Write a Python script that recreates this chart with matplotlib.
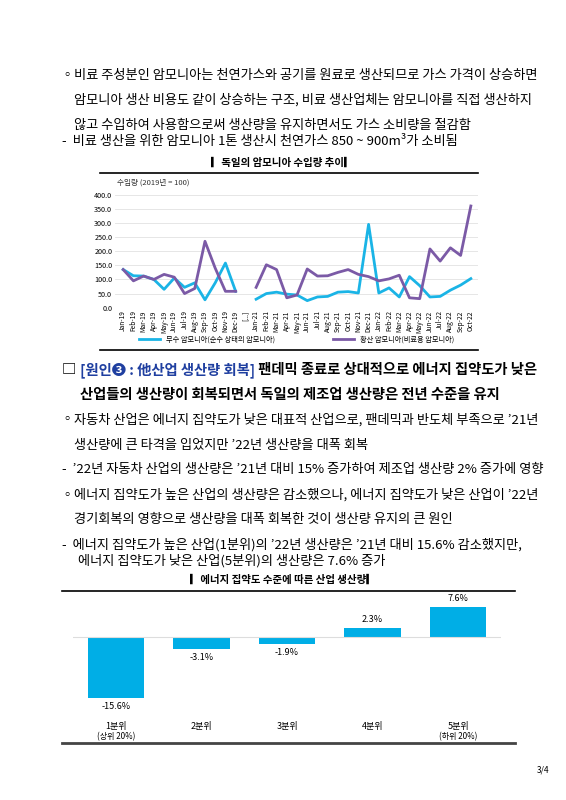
import matplotlib
matplotlib.use("Agg")
import matplotlib.pyplot as plt
from matplotlib.lines import Line2D
import numpy as np

plt.rcParams["font.family"] = ["Noto Sans CJK KR", "DejaVu Sans"]

W, H = 566, 800
CYAN = "#1ab4e6"
PURPLE = "#7b5aa6"
BAR = "#00aee6"
BLUE = "#1f3fa0"

months = ["Jan-19", "Feb-19", "Mar-19", "Apr-19", "May-19", "Jun-19", "Jul-19", "Aug-19",
          "Sep-19", "Oct-19", "Nov-19", "Dec-19", "[...]",
          "Jan-21", "Feb-21", "Mar-21", "Apr-21", "May-21", "Jun-21", "Jul-21", "Aug-21",
          "Sep-21", "Oct-21", "Nov-21", "Dec-21", "Jan-22", "Feb-22", "Mar-22", "Apr-22",
          "May-22", "Jun-22", "Jul-22", "Aug-22", "Sep-22", "Oct-22"]
pure_2019 = [135, 113, 112, 100, 65, 105, 72, 88, 28, 88, 158, 58]
pure_2122 = [30, 50, 55, 48, 45, 25, 38, 40, 55, 57, 52, 295,
             52, 70, 38, 110, 78, 38, 40, 62, 80, 103]
sulf_2019 = [135, 95, 112, 100, 118, 108, 50, 68, 235, 140, 58, 58]
sulf_2122 = [72, 152, 135, 35, 45, 137, 112, 113, 125, 135, 118, 110,
             95, 102, 115, 35, 32, 208, 165, 212, 185, 360]

quintiles = ["1분위\n(상위 20%)", "2분위", "3분위", "4분위", "5분위\n(하위 20%)"]
change = [-15.6, -3.1, -1.9, 2.3, 7.6]


def box(x, y, w, h):
    return [x / W, 1 - (y + h) / H, w / W, h / H]


def hline(x0, x1, y, lw=1.0, color="black"):
    fig.add_artist(Line2D([x0 / W, x1 / W], [1 - y / H, 1 - y / H], color=color, lw=lw))


def txt(x, y, s, **kw):
    kw.setdefault("fontsize", 9.5)
    return fig.text(x / W, 1 - y / H, s, va="center", **kw)


fig = plt.figure(figsize=(W / 100, H / 100), dpi=100)
fig.patch.set_facecolor("white")

# body text
txt(60, 75, "◦")
txt(74, 75, "비료 주성분인 암모니아는 천연가스와 공기를 원료로 생산되므로 가스 가격이 상승하면")
txt(74, 100, "암모니아 생산 비용도 같이 상승하는 구조, 비료 생산업체는 암모니아를 직접 생산하지")
txt(74, 125, "않고 수입하여 사용함으로써 생산량을 유지하면서도 가스 소비량을 절감함")
txt(62, 141, "-  비료 생산을 위한 암모니아 1톤 생산시 천연가스 850 ~ 900m³가 소비됨")

# line chart
txt(283, 163, "▎독일의 암모니아 수입량 추이▎", ha="center", fontsize=7.5, fontweight="bold")
hline(100, 478, 173, lw=1.2)
hline(100, 478, 350, lw=1.2)
txt(117, 183, "수입량 (2019년 = 100)", fontsize=5.5, color="#333333")

ax = fig.add_axes(box(115, 194.7, 363, 113))
x = np.arange(len(months))
ax.plot(x[:12], pure_2019, color=CYAN, lw=2)
ax.plot(x[13:], pure_2122, color=CYAN, lw=2, label="무수 암모니아(순수 상태의 암모니아)")
ax.plot(x[:12], sulf_2019, color=PURPLE, lw=2)
ax.plot(x[13:], sulf_2122, color=PURPLE, lw=2, label="황산 암모니아(비료용 암모니아)")
ax.set_ylim(0, 400)
ax.set_xlim(-0.8, 34.7)
ax.set_yticks(np.arange(0, 401, 50))
ax.set_yticklabels([f"{v:.1f}" for v in np.arange(0, 401, 50)], fontsize=5.2)
ax.set_xticks(x)
ax.set_xticklabels(months, rotation=90, fontsize=4.8)
ax.grid(axis="y", color="#e2e2e2", lw=0.6)
ax.set_axisbelow(True)
for s in ax.spines.values():
    s.set_visible(False)
ax.tick_params(length=0, pad=2)
ax.legend(loc="center", bbox_to_anchor=(0.5, -0.285), ncol=2, frameon=False,
          fontsize=5.2, handlelength=3, columnspacing=8, borderpad=0)

# heading
a1 = fig.text(80 / W, 1 - 370 / H, "[원인❸ : 他산업 생산량 회복]", fontsize=10.3, fontweight="bold",
              color=BLUE, va="center")
txt(62, 370, "□", fontsize=10.3, fontweight="bold")
plt.annotate(" 팬데믹 종료로 상대적으로 에너지 집약도가 낮은", xy=(1, 0.5), xycoords=a1,
             va="center", fontsize=10.3, fontweight="bold", annotation_clip=False)
txt(80, 395, "산업들의 생산량이 회복되면서 독일의 제조업 생산량은 전년 수준을 유지",
    fontsize=10.3, fontweight="bold")

txt(60, 420, "◦")
txt(74, 420, "자동차 산업은 에너지 집약도가 낮은 대표적 산업으로, 팬데믹과 반도체 부족으로 ’21년")
txt(74, 445, "생산량에 큰 타격을 입었지만 ’22년 생산량을 대폭 회복")
txt(62, 470, "-  ’22년 자동차 산업의 생산량은 ’21년 대비 15% 증가하여 제조업 생산량 2% 증가에 영향")
txt(60, 495, "◦")
txt(74, 495, "에너지 집약도가 높은 산업의 생산량은 감소했으나, 에너지 집약도가 낮은 산업이 ’22년")
txt(74, 520, "경기회복의 영향으로 생산량을 대폭 회복한 것이 생산량 유지의 큰 원인")
txt(62, 545, "-  에너지 집약도가 높은 산업(1분위)의 ’22년 생산량은 ’21년 대비 15.6% 감소했지만,")
txt(78, 561, "에너지 집약도가 낮은 산업(5분위)의 생산량은 7.6% 증가")

# bar chart
txt(283, 580, "▎에너지 집약도 수준에 따른 산업 생산량▎", ha="center", fontsize=7.5, fontweight="bold")
hline(62, 515, 591, lw=1.2)
hline(62, 515, 743, lw=2.0, color="#444444")

bx = fig.add_axes(box(73, 598, 428, 107))
pos = np.arange(len(change))
bx.bar(pos, change, width=0.66, color=BAR)
bx.axhline(0, color="#dddddd", lw=0.8)
for p, v in zip(pos, change):
    off = 0.9 if v > 0 else -1.0
    bx.text(p, v + off, f"{v}%", ha="center", va="bottom" if v > 0 else "top", fontsize=6.5)
bx.set_xlim(-0.5, 4.5)
bx.set_ylim(-17.3, 9.8)
bx.axis("off")
for p, lab in zip(pos, quintiles):
    lines = lab.split("\n")
    xf = (73 + (p + 0.5) * 428 / 5) / W
    fig.text(xf, 1 - 727 / H, lines[0], ha="center", va="center", fontsize=6.5)
    if len(lines) > 1:
        fig.text(xf, 1 - 737 / H, lines[1], ha="center", va="center", fontsize=5.8)

txt(537, 770, "3/4", fontsize=6)

fig.savefig("out.png", dpi=100, facecolor="white")
